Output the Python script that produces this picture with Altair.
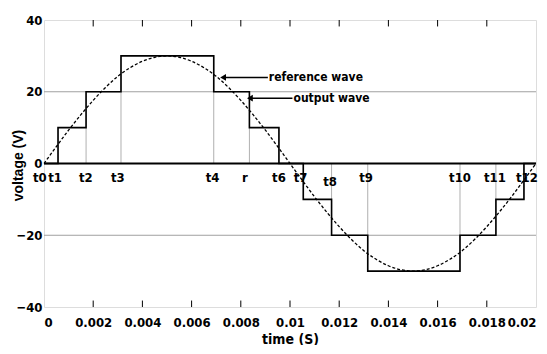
import altair as alt
import pandas as pd

# switching instants and staircase levels
step_t = [0.0, 0.00057, 0.00171, 0.00313, 0.0069, 0.00835, 0.00955,
          0.01054, 0.01169, 0.01316, 0.01691, 0.01837, 0.01951, 0.02]
step_v = [0, 10, 20, 30, 20, 10, 0, -10, -20, -30, -20, -10, 0, 0]

ref_t = [i * 0.0005 for i in range(41)]
ref_v = [0, 4.7, 9.3, 13.6, 17.6, 21.2, 24.3, 26.7, 28.5, 29.6, 30,
         29.6, 28.5, 26.7, 24.3, 21.2, 17.6, 13.6, 9.3, 4.7, 0,
         -4.7, -9.3, -13.6, -17.6, -21.2, -24.3, -26.7, -28.5, -29.6, -30,
         -29.6, -28.5, -26.7, -24.3, -21.2, -17.6, -13.6, -9.3, -4.7, 0]

# instant labels
lab_text = ["t0", "t1", "t2", "t3", "t4", "r", "t6", "t7", "t8", "t9", "t10", "t11", "t12"]
lab_x = [-0.00017, 0.00045, 0.0017, 0.0030, 0.00685, 0.00817, 0.00955,
         0.01043, 0.01163, 0.01309, 0.01691, 0.01833, 0.01963]
lab_y = [-4.0, -4.0, -4.0, -4.0, -4.0, -4.0, -4.0, -4.0, -5.2, -4.0, -4.0, -4.0, -4.0]

x_ticks = [0, 0.002, 0.004, 0.006, 0.008, 0.01, 0.012, 0.014, 0.016, 0.018, 0.02]
y_ticks = [-40, -20, 0, 20, 40]
grid_y = [-20, 20]

FONT = "DejaVu Sans Condensed, Liberation Sans Narrow, Liberation Sans, Arial"

xs = alt.Scale(domain=[0, 0.02], nice=False)
ys = alt.Scale(domain=[-40, 40], nice=False)

step_df = pd.DataFrame({"t": step_t, "v": step_v})
ref_df = pd.DataFrame({"t": ref_t, "v": ref_v})
stem_df = pd.DataFrame({"t": step_t[1:13],
                        "v": [10, 20, 30, 30, 20, 10, -10, -20, -30, -30, -20, -10]})
lab_df = pd.DataFrame({"x": lab_x, "y": lab_y, "s": lab_text})
grid_df = pd.DataFrame({"y": grid_y})
tick_df = pd.DataFrame({"t": x_ticks[1:-1]})
zero_df = pd.DataFrame({"y": [0]})

base_x = alt.X("t:Q", scale=xs,
               axis=alt.Axis(values=x_ticks, format="~g", title="time (S)",
                             grid=False, ticks=False, domain=False, labelOverlap=False,
                             labelFont=FONT, labelFontSize=13, labelFontWeight="bold",
                             labelColor="black", labelPadding=9,
                             titleFont=FONT, titleFontSize=14, titleFontWeight="bold",
                             titleColor="black", titlePadding=3))
base_y = alt.Y("v:Q", scale=ys,
               axis=alt.Axis(values=y_ticks, title="voltage (V)",
                             grid=False, ticks=False, domain=False, labelOverlap=False,
                             labelFont=FONT, labelFontSize=13, labelFontWeight="bold",
                             labelColor="black", labelPadding=2,
                             titleFont="Liberation Sans, Arial", titleFontSize=14,
                             titleFontWeight="bold", titleColor="black",
                             titleX=-26, titleY=145, titleAngle=-90,
                             titleAlign="center", titleBaseline="middle"))

grid = alt.Chart(grid_df).mark_rule(color="#a0a0a0", strokeWidth=1).encode(
    y=alt.Y("y:Q", scale=ys))
stems = alt.Chart(stem_df).mark_rule(color="#b0b0b0", strokeWidth=1).encode(
    x=alt.X("t:Q", scale=xs), y=alt.Y("v:Q", scale=ys), y2=alt.datum(0))
zero = alt.Chart(zero_df).mark_rule(color="black", strokeWidth=2).encode(
    y=alt.Y("y:Q", scale=ys))
top_ticks = alt.Chart(tick_df).mark_rule(color="black", strokeWidth=1).encode(
    x=alt.X("t:Q", scale=xs), y=alt.datum(40), y2=alt.datum(38.2))
bot_ticks = alt.Chart(tick_df).mark_rule(color="black", strokeWidth=1).encode(
    x=alt.X("t:Q", scale=xs), y=alt.datum(-40), y2=alt.datum(-38.2))
step = alt.Chart(step_df).mark_line(color="black", strokeWidth=1.6,
                                    interpolate="step-after").encode(x=base_x, y=base_y)
ref = alt.Chart(ref_df).mark_line(color="black", strokeWidth=1.3, strokeDash=[3, 2],
                                  interpolate="monotone").encode(
    x=alt.X("t:Q", scale=xs), y=alt.Y("v:Q", scale=ys))
labels = alt.Chart(lab_df).mark_text(font=FONT, fontSize=13, fontWeight="bold",
                                     color="black", baseline="middle", align="center").encode(
    x=alt.X("x:Q", scale=xs), y=alt.Y("y:Q", scale=ys), text="s:N")

# annotations
ann_df = pd.DataFrame({"x": [0.00728, 0.00837], "x2": [0.0091, 0.0101],
                       "y": [24, 18.2], "s": ["reference wave", "output wave"]})
ann_lines = alt.Chart(ann_df).mark_rule(color="black", strokeWidth=1.5).encode(
    x=alt.X("x:Q", scale=xs), x2="x2:Q", y=alt.Y("y:Q", scale=ys))
ann_heads = alt.Chart(ann_df).mark_point(shape="triangle-left", filled=True, color="black",
                                         size=45, opacity=1).encode(
    x=alt.X("x:Q", scale=xs), y=alt.Y("y:Q", scale=ys))
ann_text = alt.Chart(ann_df).mark_text(font=FONT, fontSize=12, fontWeight="bold",
                                       color="black", align="left", baseline="middle", dx=1).encode(
    x=alt.X("x2:Q", scale=xs), y=alt.Y("y:Q", scale=ys), text="s:N")

chart = alt.layer(grid, stems, step, zero, ref, top_ticks, bot_ticks,
                  ann_lines, ann_heads, ann_text, labels).properties(
    width=492, height=287,
    autosize=alt.AutoSizeParams(type="none"),
    padding={"left": 36, "top": 12, "right": 3, "bottom": 38},
).configure_view(stroke="black", strokeWidth=1.5).configure(background="white")

chart.save("out.html", embed_options={"renderer": "svg", "actions": False})
